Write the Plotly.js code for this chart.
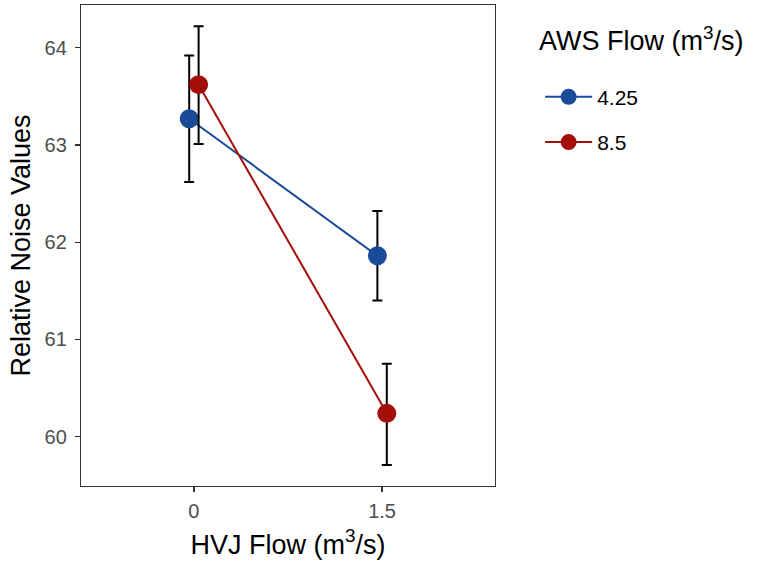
<!DOCTYPE html>
<html>
<head>
<meta charset="utf-8">
<script src="https://cdn.plot.ly/plotly-3.0.1.min.js"></script>
<style>html,body{margin:0;padding:0;background:#fff;}#chart{width:757px;height:565px;}</style>
</head>
<body>
<div id="chart"></div>
<script>
// ---- data ----
const hvjCategories = ["0", "1.5"];
const awsLevels = ["4.25", "8.5"];
const meanLow = [63.27, 61.86];      // AWS 4.25
const upperLow = [63.92, 62.32];
const lowerLow = [62.62, 61.40];
const meanHigh = [63.62, 60.24];     // AWS 8.5
const upperHigh = [64.22, 60.75];
const lowerHigh = [63.01, 59.71];
const seriesColors = ["#1a4b99", "#a30f08"];
const yTicks = [60, 61, 62, 63, 64];

// ---- build ----
const dodge = 0.025;
const idx = hvjCategories.map((c, i) => i);
function mkTrace(name, mean, up, lo, color, off) {
  return {
    type: "scatter", mode: "lines+markers", name: name, legendgroup: name,
    x: idx.map(i => i + off), y: mean,
    line: {color: color, width: 2},
    marker: {color: color, size: 19},
    error_y: {
      type: "data", symmetric: false,
      array: up.map((u, i) => u - mean[i]),
      arrayminus: lo.map((l, i) => mean[i] - l),
      color: "#000", thickness: 2, width: 5
    }
  };
}
const data = [
  mkTrace(awsLevels[0], meanLow, upperLow, lowerLow, seriesColors[0], -dodge),
  mkTrace(awsLevels[1], meanHigh, upperHigh, lowerHigh, seriesColors[1], dodge)
];
const layout = {
  width: 757, height: 565,
  margin: {l: 81, r: 262, t: 5, b: 79},
  paper_bgcolor: "#fff", plot_bgcolor: "#fff",
  font: {family: "Liberation Sans, Arial, sans-serif", color: "#000"},
  showlegend: true,
  xaxis: {
    range: [-0.6, 1.6], tickvals: idx, ticktext: hvjCategories,
    showgrid: false, zeroline: false,
    showline: true, mirror: true, linecolor: "#333", linewidth: 1.2,
    ticks: "outside", ticklen: 5, tickcolor: "#333", tickwidth: 1.2,
    ticklabelstandoff: 2,
    tickfont: {size: 20, color: "#4d4d4d"},
    title: {text: "HVJ Flow (m<sup>3</sup>/s)", font: {size: 27, color: "#000"}, standoff: 13}
  },
  yaxis: {
    range: [59.493, 64.439], tickvals: yTicks,
    showgrid: false, zeroline: false,
    showline: true, mirror: true, linecolor: "#333", linewidth: 1.2,
    ticks: "outside", ticklen: 5, tickcolor: "#333", tickwidth: 1.2,
    ticklabelstandoff: 4,
    tickfont: {size: 20, color: "#4d4d4d"},
    title: {text: "Relative Noise Values", font: {size: 27, color: "#000"}, standoff: 6}
  },
  annotations: [{
    xref: "paper", yref: "paper", x: 1.101, y: 0.93,
    xanchor: "left", yanchor: "middle", showarrow: false,
    text: "AWS Flow (m<sup>3</sup>/s)", font: {size: 27, color: "#000"}
  }],
  legend: {
    x: 1.109, xanchor: "left", y: 0.851, yanchor: "top",
    font: {size: 21, color: "#000"},
    itemwidth: 47,
    tracegroupgap: 15, traceorder: "grouped",
    bgcolor: "rgba(0,0,0,0)"
  }
};
Plotly.newPlot("chart", data, layout, {displayModeBar: false, staticPlot: true});
</script>
</body>
</html>
